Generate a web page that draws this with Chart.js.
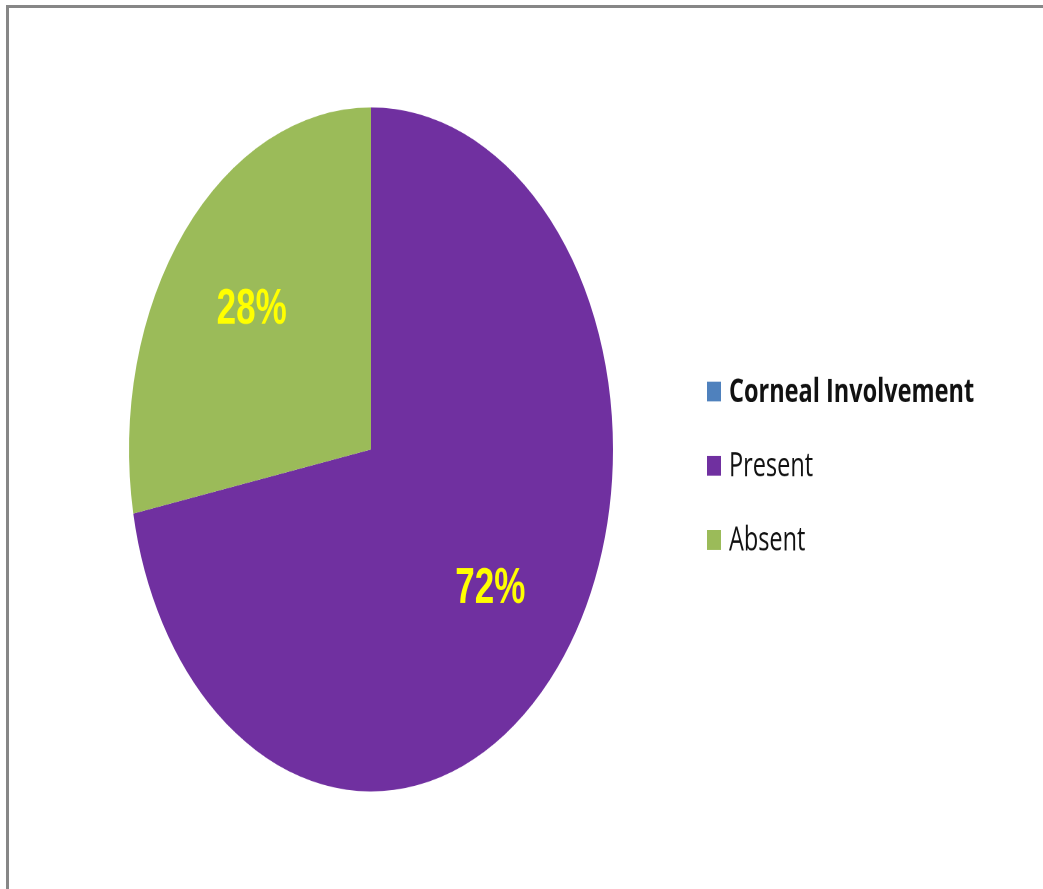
<!DOCTYPE html>
<html>
<head>
<meta charset="utf-8">
<script src="https://cdn.jsdelivr.net/npm/chart.js@4.4.0/dist/chart.umd.min.js"></script>
<style>
  html, body { margin: 0; padding: 0; background: #fff; overflow: hidden; width: 1043px; height: 889px; }
  #frame { position: absolute; left: 6px; top: 5px; width: 1200px; height: 1000px; border-left: 3px solid #878787; border-top: 3px solid #878787; pointer-events: none; z-index: 2; }
  #wrap { position: absolute; left: 0; top: 0; width: 1043px; height: 629px; transform: scaleY(1.41335); transform-origin: 0 0; }
</style>
</head>
<body>
<div id="frame"></div>
<div id="wrap"><canvas id="c" width="1043" height="629"></canvas></div>
<script>
const categories = ["Corneal Involvement", "Present", "Absent"];
const values = [0, 72, 28];
const percentLabels = ["0%", "72%", "28%"];
const colors = ["#4F81BD", "#7030A0", "#9BBB59"];

const sliceLabels = {
  id: 'sliceLabels',
  afterDatasetsDraw(chart, args, opts) {
    const ctx = chart.ctx;
    const meta = chart.getDatasetMeta(0);
    ctx.save();
    ctx.font = opts.font;
    ctx.fillStyle = opts.color;
    ctx.textAlign = 'center';
    ctx.textBaseline = 'middle';
    meta.data.forEach((arc, i) => {
      if (!values[i]) return;
      const p = arc.getProps(['x', 'y', 'startAngle', 'endAngle', 'outerRadius'], true);
      const mid = (p.startAngle + p.endAngle) / 2;
      const r = p.outerRadius * opts.radiusFraction;
      ctx.fillText(percentLabels[i], p.x + Math.cos(mid) * r, p.y + Math.sin(mid) * r);
    });
    ctx.restore();
  }
};

const sideLegend = {
  id: 'sideLegend',
  afterDraw(chart, args, opts) {
    const ctx = chart.ctx;
    ctx.save();
    ctx.textBaseline = 'middle';
    categories.forEach((name, i) => {
      const y = opts.top + i * opts.spacing;
      ctx.fillStyle = colors[i];
      ctx.fillRect(opts.left, y - opts.box / 2, opts.box, opts.box);
      ctx.fillStyle = '#111';
      ctx.font = (i === 0 ? 'bold ' : '') + opts.fontSize + 'px "Open Sans", "Liberation Sans", Arial, sans-serif';
      ctx.fillText(name, opts.left + opts.box + 8, y + 1, i === 0 ? 248 : undefined);
    });
    ctx.restore();
  }
};

new Chart(document.getElementById('c'), {
  type: 'pie',
  data: {
    labels: categories,
    datasets: [{ data: values, backgroundColor: colors, borderWidth: 0 }]
  },
  options: {
    responsive: false,
    animation: false,
    devicePixelRatio: 2,
    layout: { padding: { left: 129, right: 430, top: 76, bottom: 69 } },
    plugins: {
      legend: { display: false },
      tooltip: { enabled: false },
      sliceLabels: { font: 'bold 35px "Liberation Sans", Arial, sans-serif', color: '#FFFF00', radiusFraction: 0.64 },
      sideLegend: { left: 707, top: 277, spacing: 52.5, box: 14, fontSize: 23.5 }
    }
  },
  plugins: [sliceLabels, sideLegend]
});
</script>
</body>
</html>
